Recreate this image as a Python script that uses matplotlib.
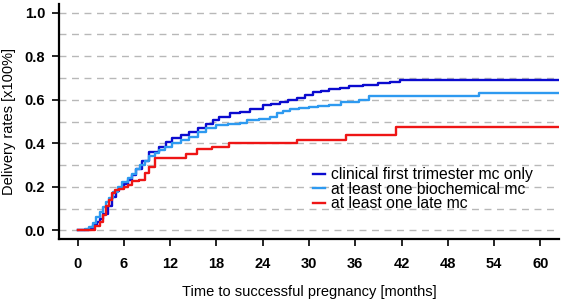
import matplotlib
matplotlib.use("Agg")
import matplotlib.pyplot as plt

# ---- data ----
t_clin = [0, 1.1, 1.5, 2.0, 2.5, 2.85, 3.3, 3.9, 4.5, 5.0, 5.4, 6.0, 6.5, 7.0, 7.6, 8.3,
          9.3, 10.6, 11.5, 12.3, 13.4, 14.5, 15.6, 16.7, 17.5, 18.4, 19.7, 21.0, 22.3,
          24.0, 25.1, 26.2, 27.3, 28.4, 29.5, 30.5, 31.5, 32.6, 34.0, 35.2, 37.0, 39.0,
          40.5, 41.8, 62.4]
v_clin = [0, 0.0, 0.01, 0.025, 0.04, 0.05, 0.075, 0.11, 0.155, 0.18, 0.195, 0.215, 0.233,
          0.255, 0.28, 0.32, 0.36, 0.385, 0.405, 0.425, 0.44, 0.45, 0.47, 0.49, 0.505,
          0.52, 0.54, 0.545, 0.557, 0.575, 0.58, 0.59, 0.60, 0.61, 0.622, 0.635, 0.642,
          0.648, 0.655, 0.662, 0.667, 0.675, 0.682, 0.69, 0.69]

t_bio = [0, 1.0, 1.55, 2.0, 2.4, 2.9, 3.3, 3.7, 4.1, 4.6, 5.2, 5.8, 6.5, 7.0, 7.6, 8.1,
         8.7, 9.3, 10.0, 10.6, 11.4, 12.3, 13.4, 14.5, 15.6, 16.7, 17.9, 19.5, 21.0,
         21.9, 23.5, 24.9, 25.8, 26.6, 27.5, 28.7, 30.0, 31.2, 32.6, 34.2, 36.5, 37.8,
         52.0, 62.4]
v_bio = [0, 0.005, 0.013, 0.035, 0.06, 0.085, 0.105, 0.13, 0.15, 0.175, 0.2, 0.22, 0.24,
         0.26, 0.28, 0.3, 0.32, 0.34, 0.355, 0.37, 0.385, 0.40, 0.415, 0.43, 0.45, 0.47,
         0.485, 0.488, 0.493, 0.507, 0.512, 0.52, 0.54, 0.548, 0.557, 0.562, 0.566,
         0.57, 0.575, 0.59, 0.598, 0.616, 0.632, 0.632]

t_late = [0, 1.8, 2.3, 2.85, 3.3, 3.75, 4.1, 4.5, 4.9, 5.4, 6.0, 6.5, 7.1, 8.0, 8.8, 9.3,
          10.0, 14.1, 15.5, 17.4, 19.6, 28.4, 34.8, 41.3, 62.4]
v_late = [0, 0.0, 0.02, 0.037, 0.07, 0.11, 0.14, 0.17, 0.185, 0.19, 0.2, 0.21, 0.225,
          0.233, 0.265, 0.29, 0.33, 0.35, 0.372, 0.385, 0.40, 0.415, 0.438, 0.475, 0.475]

labels = ["clinical first trimester mc only", "at least one biochemical mc",
          "at least one late mc"]
colors = ["#0B0BCF", "#2E9AF0", "#EE1515"]

x_ticks = list(range(0, 61, 6))
y_ticks = [0.0, 0.2, 0.4, 0.6, 0.8, 1.0]
y_grid = [i / 10 for i in range(0, 11)]

# ---- figure ----
plt.rcParams['font.family'] = ['Liberation Sans', 'DejaVu Sans']
fig = plt.figure(figsize=(5.67, 2.99), dpi=100)
ax = fig.add_axes([59 / 567, 60 / 299, 500 / 567, 235 / 299])

for y in y_grid:
    ax.axhline(y, color="#B8B8B8", lw=1.0, dashes=(5, 4), zorder=1)

series = [(t_clin, v_clin), (t_bio, v_bio), (t_late, v_late)]
for (t, v), lab, c in zip(series, labels, colors):
    ax.plot(t, v, drawstyle="steps-post", color=c, lw=1.7, label=lab, zorder=3)

ax.set_xlim(-2.4, 62.4)
ax.set_ylim(-0.04, 1.04)
ax.set_xticks(x_ticks)
ax.set_yticks(y_ticks)
ax.set_yticklabels([f"{y:.1f}" for y in y_ticks])

for s in ["top", "right"]:
    ax.spines[s].set_visible(False)
for s in ["left", "bottom"]:
    ax.spines[s].set_linewidth(1.6)
ax.tick_params(axis="both", length=5, width=1.2, labelsize=10.5)
ax.tick_params(axis="x", pad=8)
ax.tick_params(axis="y", pad=5)
for lbl in ax.get_xticklabels() + ax.get_yticklabels():
    lbl.set_fontweight("bold")

ax.set_xlabel("Time to successful pregnancy [months]", fontsize=10.5, labelpad=10)
ax.set_ylabel("Delivery rates [x100%]", fontsize=10.5, labelpad=6)

leg = ax.legend(loc="upper left", bbox_to_anchor=(313 / 567, 1 - 167 / 299),
                bbox_transform=fig.transFigure, frameon=False, fontsize=11.3,
                handlelength=0.75, handletextpad=0.4, labelspacing=-0.02,
                borderpad=0, borderaxespad=0)

fig.savefig("out.png", dpi=100)
